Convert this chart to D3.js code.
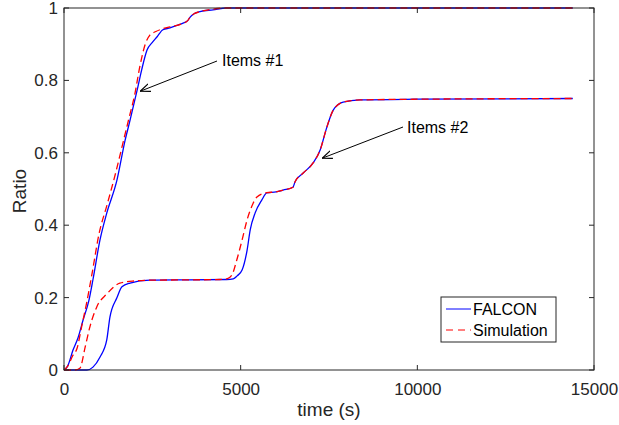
<!DOCTYPE html>
<html><head><meta charset="utf-8">
<script src="https://cdn.jsdelivr.net/npm/d3@7"></script>
<style>body{margin:0;background:#fff}svg{display:block;font-family:"Liberation Sans",Arial,sans-serif}</style>
</head><body><svg id="c" width="619" height="425"></svg>
<script>
const xTicks=[0,5000,10000,15000];
const yTicks=[0,0.2,0.4,0.6,0.8,1];
const seriesNames=["FALCON","Simulation"];
const tFalcon1=[0,100,255,400,540,700,820,1020,1200,1500,1730,1870,2070,2200,2350,2500,2630,2800,3000,3200,3370,3500,3570,3700,3850,4220,4600,6000,10000,14400];
const yFalcon1=[0,0.01,0.055,0.09,0.138,0.19,0.25,0.36,0.43,0.525,0.635,0.69,0.773,0.83,0.884,0.905,0.92,0.94,0.945,0.952,0.958,0.965,0.975,0.985,0.99,0.995,1,1,1,1];
const tSim1=[0,100,250,370,500,650,800,1000,1200,1450,1700,1850,2000,2150,2300,2430,2600,2800,3000,3200,3370,3500,3570,3700,3850,4220,4600,14400];
const ySim1=[0,0.01,0.04,0.06,0.12,0.19,0.27,0.38,0.45,0.54,0.64,0.7,0.76,0.84,0.9,0.925,0.935,0.943,0.948,0.952,0.958,0.965,0.975,0.985,0.99,0.997,1,1];
const tFalcon2=[0,650,820,1020,1210,1300,1500,1640,1870,2430,3500,4600,4790,4900,5040,5180,5270,5410,5600,5740,6000,6200,6480,6540,6770,7050,7250,7440,7620,7900,8380,10000,14400];
const yFalcon2=[0,0,0.008,0.036,0.083,0.146,0.2,0.23,0.24,0.248,0.249,0.25,0.252,0.26,0.276,0.33,0.387,0.434,0.47,0.489,0.492,0.497,0.505,0.52,0.544,0.572,0.608,0.671,0.718,0.74,0.746,0.748,0.75];
const tSim2=[0,300,450,600,735,930,1210,1580,2000,2430,3500,4400,4610,4750,4890,5040,5180,5350,5460,5740,6000,6200,6480,6540,6770,7050,7250,7440,7620,7900,8380,10000,14400];
const ySim2=[0,0,0.005,0.064,0.12,0.175,0.21,0.24,0.246,0.248,0.249,0.25,0.252,0.262,0.304,0.359,0.414,0.46,0.478,0.49,0.492,0.497,0.505,0.52,0.544,0.572,0.608,0.671,0.718,0.74,0.746,0.748,0.75];
const annotations=[{label:"Items #1",t:2100,y:0.77},{label:"Items #2",t:7250,y:0.585}];

const svg=d3.select("#c");
const L=64,R=594,T=8,B=370;
const x=d3.scaleLinear().domain([0,15000]).range([L,R]);
const y=d3.scaleLinear().domain([0,1]).range([B,T]);
const ax="#262626";
const g=svg.append("g");
g.append("rect").attr("x",L).attr("y",T).attr("width",R-L).attr("height",B-T).attr("fill","#fff");

const line=d3.line().x(d=>x(d[0])).y(d=>y(d[1])).curve(d3.curveMonotoneX);
const zip=(a,b)=>a.map((v,i)=>[v,b[i]]);
const blue="#0000ff",red="#ff0000";
[[tFalcon1,yFalcon1],[tFalcon2,yFalcon2]].forEach(([a,b])=>{
  g.append("path").attr("d",line(zip(a,b))).attr("fill","none").attr("stroke",blue).attr("stroke-width",1.3);
});
[[tSim1,ySim1],[tSim2,ySim2]].forEach(([a,b])=>{
  g.append("path").attr("d",line(zip(a,b))).attr("fill","none").attr("stroke",red).attr("stroke-width",1.3).attr("stroke-dasharray","7,4");
});

// axes
const fs=17;
const xa=g.append("g").attr("transform",`translate(0,${B})`).call(d3.axisBottom(x).tickValues(xTicks).tickSize(0).tickPadding(0).tickFormat(d3.format("d")));
const ya=g.append("g").attr("transform",`translate(${L},0)`).call(d3.axisLeft(y).tickValues(yTicks).tickSize(0).tickPadding(6).tickFormat(d=>d===0||d===1?d3.format("d")(d):d3.format(".1f")(d)));
[xa,ya].forEach(a=>{a.select(".domain").remove();a.selectAll("text").attr("fill",ax).style("font-size",fs+"px").style("font-family","Liberation Sans, Arial, sans-serif");});
xa.selectAll("text").attr("y",25).attr("dy",null);
// box and inward ticks
g.append("rect").attr("x",L).attr("y",T).attr("width",R-L).attr("height",B-T).attr("fill","none").attr("stroke",ax).attr("stroke-width",1);
const tl=5;
xTicks.forEach(v=>{
  g.append("line").attr("x1",x(v)).attr("x2",x(v)).attr("y1",B).attr("y2",B-tl).attr("stroke",ax);
  g.append("line").attr("x1",x(v)).attr("x2",x(v)).attr("y1",T).attr("y2",T+tl).attr("stroke",ax);
});
yTicks.forEach(v=>{
  g.append("line").attr("x1",L).attr("x2",L+tl).attr("y1",y(v)).attr("y2",y(v)).attr("stroke",ax);
  g.append("line").attr("x1",R).attr("x2",R-tl).attr("y1",y(v)).attr("y2",y(v)).attr("stroke",ax);
});

// axis titles
g.append("text").attr("x",(L+R)/2).attr("y",416).attr("text-anchor","middle").attr("fill",ax).style("font-size","19px").text("time (s)");
g.append("text").attr("transform",`translate(26,${(T+B)/2+2}) rotate(-90)`).attr("text-anchor","middle").attr("fill",ax).style("font-size","19px").text("Ratio");

// annotations
const defs=svg.append("defs");
defs.append("marker").attr("id","ah").attr("viewBox","0 0 10 10").attr("refX",10).attr("refY",5).attr("markerWidth",10).attr("markerHeight",10).attr("markerUnits","userSpaceOnUse").attr("orient","auto")
  .append("path").attr("d","M0,1 L10,5 L0,9").attr("fill","none").attr("stroke","#000").attr("stroke-width",1.2);
const ann=[{tx:222,ty:60,x1:217,y1:61},{tx:407,ty:127,x1:403,y1:127}];
annotations.forEach((a,i)=>{
  const p=ann[i];
  g.append("line").attr("x1",p.x1).attr("y1",p.y1).attr("x2",x(a.t)+2).attr("y2",y(a.y)).attr("stroke","#000").attr("stroke-width",1).attr("marker-end","url(#ah)");
  g.append("text").attr("x",p.tx).attr("y",p.ty).attr("dy","0.35em").attr("fill","#000").style("font-size","16px").text(a.label);
});

// legend
const lg=g.append("g");
lg.append("rect").attr("x",441).attr("y",297).attr("width",115).attr("height",45).attr("fill","#fff").attr("stroke",ax).attr("stroke-width",1);
seriesNames.forEach((n,i)=>{
  const yy=309+i*21;
  lg.append("line").attr("x1",446).attr("x2",471).attr("y1",yy).attr("y2",yy).attr("stroke",i?red:blue).attr("stroke-width",1).attr("stroke-dasharray",i?"7,5":null);
  lg.append("text").attr("x",473).attr("y",yy).attr("dy","0.35em").attr("fill","#000").style("font-size","16px").text(n);
});
</script></body></html>
